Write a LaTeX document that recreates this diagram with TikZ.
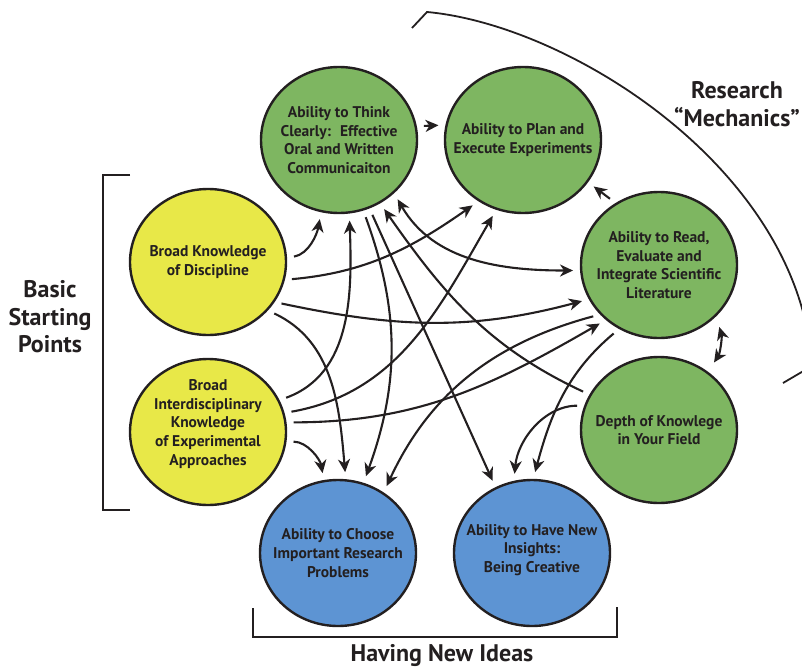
\documentclass[tikz,border=0pt]{standalone}
\usepackage{fontspec}
\setmainfont{PT Sans}
\usepackage{tikz}
\usetikzlibrary{shapes,arrows.meta,positioning,calc}
\definecolor{ballgreen}{RGB}{126,182,97}
\definecolor{ballyellow}{RGB}{232,232,72}
\definecolor{ballblue}{RGB}{93,148,211}
\definecolor{ink}{RGB}{35,31,32}
\tikzset{
ball/.style = {draw=ink, ellipse, minimum width=156pt, minimum height=146pt, line width=2.4pt},
greenball/.style = {ball, fill=ballgreen},
yellowball/.style = {ball, fill=ballyellow},
blueball/.style = {ball, fill=ballblue},
txt/.style = {align=center, text=ink, font=\bfseries\fontsize{15.5}{18.6}\selectfont},
bigtxt/.style = {align=center, text=ink, font=\bfseries\fontsize{24}{27.5}\selectfont},
bracket/.style = {draw=ink, line width=2pt},
link/.style = {draw=ink, line width=2.1pt, shorten <=7pt, shorten >=7pt}
}

\begin{document}
\begin{tikzpicture}[x=1pt, y=1pt, >={Stealth[length=13pt,width=12pt,inset=4pt]}]
    \useasboundingbox (0,0) rectangle (802,-669);

    % circles
    \node [greenball, label={[txt]center:{Ability to Think\\Clearly:~ Effective\\Oral and Written\\Communicaiton}}] (think) at (339,-140) {};
    \node [greenball, right of=think, node distance=184pt, label={[txt]center:{Ability to Plan and\\Execute Experiments}}] (plan) {};
    \node [yellowball, label={[txt]center:{Broad Knowledge\\of Discipline}}] (broad) at (208,-262) {};
    \node [yellowball, below of=broad, node distance=170pt, label={[txt, yshift=8pt]center:{Broad\\Interdisciplinary\\Knowledge\\of Experimental\\Approaches}}] (interd) {};
    \node [greenball, label={[txt]center:{Ability to Read,\\Evaluate and\\Integrate Scientific\\Literature}}] (read) at (659,-265) {};
    \node [greenball, below of=read, node distance=165pt, label={[txt]center:{Depth of Knowlege\\in Your Field}}] (depth) {};
    \node [blueball, label={[txt]center:{Ability to Choose\\Important Research\\Problems}}] (choose) at (338,-553) {};
    \node [blueball, right of=choose, node distance=194pt, label={[txt, yshift=3pt]center:{Ability to Have New\\Insights:\\Being Creative}}] (insight) {};

    % group labels
    \node [bigtxt] (basic) at (50,-317) {Basic\\Starting\\Points};
    \node [bigtxt] (ideas) at (442,-656) {Having New Ideas};
    \node [bigtxt] (mech) at (737,-104) {Research\\“Mechanics”};

    % brackets
    \draw [bracket] (130,-175) -- (103,-175) -- (103,-510) -- (130,-510);
    \draw [bracket] (253,-608) -- (253,-637) -- (617,-637) -- (617,-607);
    \begin{scope}
        \clip (0,0) rectangle (802,-669);
        \draw [draw=ink, line width=1.8pt] (412,-28) -- (427,-12) .. controls (570,-25) and (800,-170) .. (812,-366) -- (783,-383);
    \end{scope}

    % links
    \draw [link,->] (think.10) -- (plan.169);
    \draw [link,->] (broad.3) to[out=10,in=-100] (think.256);
    \draw [link,->] (broad.-13) to[out=5,in=215] (plan.234);
    \draw [link,->] (broad.-31) to[out=-12,in=195] (read.206);
    \draw [link,->] (broad.-39) to[out=-25,in=95] (choose.84);
    \draw [link,->] (interd.24) to[out=20,in=-88] (think.278);
    \draw [link,->] (interd.14) to[out=10,in=240] (plan.249);
    \draw [link,->] (interd.7) to[out=0,in=210] (read.226);
    \draw [link,->] (interd.-7) to[out=0,in=100] (choose.101);
    \draw [link,->] (think.-71) to[bend left=20] (choose.70);
    \draw [link,->] (think.-66) -- (insight.119);
    \draw [link,<->] (think.-44) to[out=-60,in=180] (read.184);
    \draw [link,->] (depth.153) to[out=155,in=-55] (think.-57);
    \draw [link,->] (read.125) -- (plan.-33);
    \draw [link,<->, shorten <=11pt, shorten >=11pt] (read.-42) to[bend left=25] (depth.50);
    \draw [link,->] (read.220) to[out=195,in=65] (choose.53);
    \draw [link,->] (read.238) to[out=220,in=75] (insight.89);
    \draw [link,->] (depth.162) to[out=180,in=85] (insight.104);
\end{tikzpicture}
\end{document}
